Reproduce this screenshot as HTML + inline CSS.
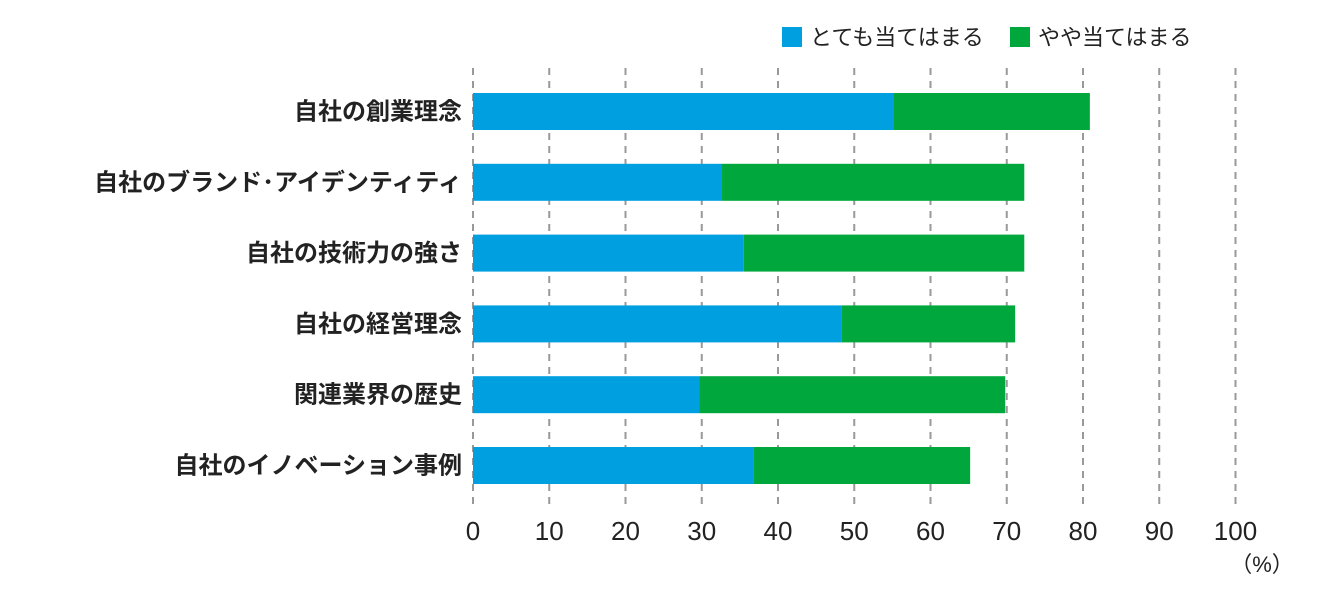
<!DOCTYPE html>
<html><head><meta charset="utf-8"><style>
body{margin:0;background:#fff;}
svg{display:block;font-family:"Liberation Sans","Noto Sans CJK JP",sans-serif;}
</style></head><body>
<svg id="chart" width="1330" height="598">
<g>
<rect x="782" y="27" width="20" height="20" fill="#00a0e0"/>
<text x="810" y="45" font-size="22" fill="#222">とても当てはまる</text>
<rect x="1010" y="27" width="20" height="20" fill="#00a73c"/>
<text x="1038" y="45" font-size="22" fill="#222">やや当てはまる</text>
</g>
<g id="grid"></g>
<g id="bars"></g>
<g id="labels"></g>
<g id="ticks"></g>
<text x="1262" y="572" font-size="22" text-anchor="middle" fill="#222">（%）</text>
</svg>
<script>
const categories=["自社の創業理念","自社のブランド･アイデンティティ","自社の技術力の強さ","自社の経営理念","関連業界の歴史","自社のイノベーション事例"];
const veryValues=[55.1,32.6,35.5,48.3,29.7,36.8];
const somewhatValues=[25.8,39.7,36.8,22.8,40.1,28.4];
const tickLabels=[0,10,20,30,40,50,60,70,80,90,100];
const NS="http://www.w3.org/2000/svg";
function x(v){return 473+v*7.625;}
function rowY(i){return 93+i*70.8;}
const barH=37;
function mk(tag,attrs,parent){const e=document.createElementNS(NS,tag);for(const k in attrs)e.setAttribute(k,attrs[k]);parent.appendChild(e);return e;}
const grid=document.getElementById('grid'),bars=document.getElementById('bars'),labels=document.getElementById('labels'),ticks=document.getElementById('ticks');
tickLabels.forEach(t=>{
  const l=mk('line',{x1:x(t),x2:x(t),y1:68,y2:506,stroke:'#999','stroke-width':2,'stroke-dasharray':'7,6'},grid);
  
  
  const tx=mk('text',{x:x(t),y:540,'font-size':26,'text-anchor':'middle',fill:'#222'},ticks);
  tx.textContent=t;
  
  
});
categories.forEach((c,i)=>{
  const y=rowY(i);
  const b1=mk('rect',{x:x(0),y:y,width:x(veryValues[i])-x(0),height:barH,fill:'#00a0e0'},bars);
  
  
  const b2=mk('rect',{x:x(veryValues[i]),y:y,width:x(veryValues[i]+somewhatValues[i])-x(veryValues[i]),height:barH,fill:'#00a73c'},bars);
  
  
  const t=mk('text',{x:462,y:y+barH/2+8,'font-size':24,'font-weight':'bold','text-anchor':'end',fill:'#222'},labels);
  t.textContent=c;
  
  
});
</script>
</body></html>
